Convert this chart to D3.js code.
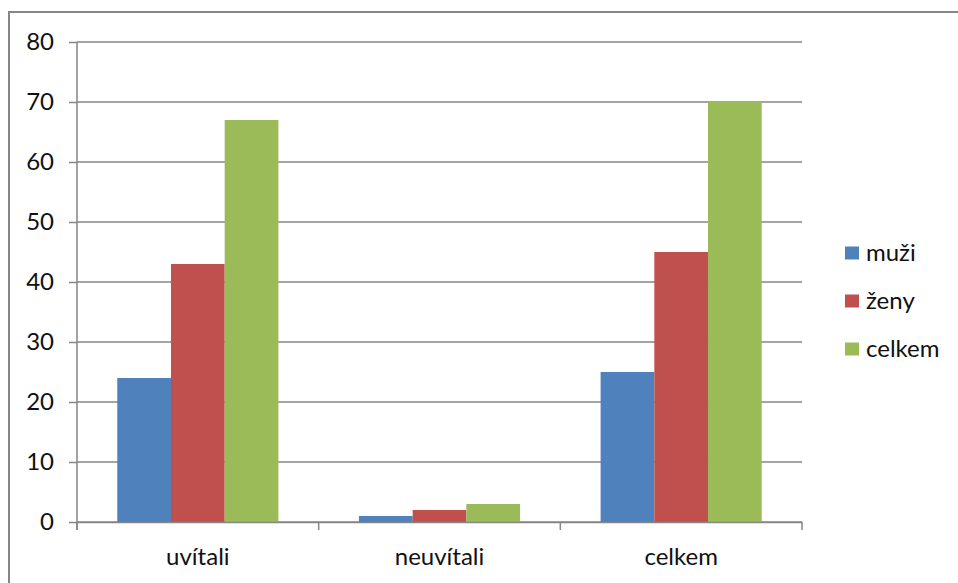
<!DOCTYPE html>
<html>
<head>
<meta charset="utf-8">
<script src="https://cdn.jsdelivr.net/npm/d3@7"></script>
<style>
  html, body { margin: 0; padding: 0; background: #fff; }
  svg { display: block; }
  text { font-family: Lato, "Open Sans", sans-serif; fill: #111; }
</style>
</head>
<body>
<svg id="chart" width="958" height="583"></svg>
<script>
// Survey answers by group
const categories = ["uvítali", "neuvítali", "celkem"];
const seriesNames = ["muži", "ženy", "celkem"];
const muzi = [24, 1, 25];
const zeny = [43, 2, 45];
const celkem = [67, 3, 70];
const yTicks = [0, 10, 20, 30, 40, 50, 60, 70, 80];
const colors = ["#4F81BD", "#C0504D", "#9BBB59"];

const seriesValues = [muzi, zeny, celkem];
const fontSize = "24px";

const svg = d3.select("#chart");

// chart frame (runs past the right and bottom edges)
svg.append("rect")
  .attr("x", 9).attr("y", 12)
  .attr("width", 1000).attr("height", 700)
  .attr("fill", "#fff")
  .attr("stroke", "#868686").attr("stroke-width", 2);

const plot = { left: 77, right: 802, top: 42, bottom: 522 };

const y = d3.scaleLinear().domain([0, 80]).range([plot.bottom, plot.top]);
const x0 = d3.scaleBand().domain(categories).range([plot.left, plot.right]).paddingInner(0).paddingOuter(0);
// gap width 150% of a bar: group = 3 bars, gap = 1.5 bars
const groupPad = 1.5 / 4.5;
const x1 = d3.scaleBand().domain(seriesNames)
  .range([x0.bandwidth() * groupPad / 2, x0.bandwidth() * (1 - groupPad / 2)]);

// y axis tick labels
const yAxis = d3.axisLeft(y).tickValues(yTicks).tickSize(8).tickPadding(15);
const gy = svg.append("g").attr("transform", `translate(${plot.left},0)`).call(yAxis);
gy.select(".domain").remove();
gy.selectAll(".tick line").attr("stroke", "#868686").attr("stroke-width", 1.5);
gy.selectAll(".tick text").style("font-size", fontSize).attr("fill", "#111")
  .style("font-family", "Lato, 'Open Sans', sans-serif");

// horizontal gridlines
svg.append("g").selectAll("line").data(yTicks).join("line")
  .attr("x1", plot.left).attr("x2", plot.right)
  .attr("y1", d => y(d)).attr("y2", d => y(d))
  .attr("stroke", "#868686").attr("stroke-width", 1.5);

// bars
const groups = svg.append("g").selectAll("g").data(categories).join("g")
  .attr("transform", d => `translate(${x0(d)},0)`);
groups.selectAll("rect")
  .data((c, i) => seriesNames.map((s, j) => ({ s, v: seriesValues[j][i], j })))
  .join("rect")
  .attr("x", d => x1(d.s))
  .attr("width", x1.bandwidth())
  .attr("y", d => y(d.v))
  .attr("height", d => y(0) - y(d.v))
  .attr("fill", d => colors[d.j]);

// y axis line
svg.append("line")
  .attr("x1", plot.left).attr("x2", plot.left)
  .attr("y1", plot.top).attr("y2", plot.bottom + 8)
  .attr("stroke", "#868686").attr("stroke-width", 1.5);

// x axis
const xAxis = d3.axisBottom(x0).tickSize(0).tickPadding(26);
const gx = svg.append("g").attr("transform", `translate(0,${plot.bottom})`).call(xAxis);
gx.select(".domain").attr("stroke", "#868686").attr("stroke-width", 1.5);
gx.selectAll(".tick text").style("font-size", fontSize).attr("fill", "#111")
  .style("font-family", "Lato, 'Open Sans', sans-serif");
// category boundary ticks
svg.append("g").selectAll("line").data(categories.map(c => x0(c)).concat([plot.right])).join("line")
  .attr("x1", d => d).attr("x2", d => d)
  .attr("y1", plot.bottom).attr("y2", plot.bottom + 8)
  .attr("stroke", "#868686").attr("stroke-width", 1.5);

// legend
const legend = svg.append("g").attr("transform", "translate(845,253)");
const items = legend.selectAll("g").data(seriesNames).join("g")
  .attr("transform", (d, i) => `translate(0,${i * 48})`);
items.append("rect").attr("x", 0).attr("y", -6.5).attr("width", 14).attr("height", 13)
  .attr("fill", (d, i) => colors[i]);
items.append("text").attr("x", 21).attr("y", 0).attr("dy", "0.35em")
  .style("font-size", fontSize).text(d => d);
</script>
</body>
</html>
